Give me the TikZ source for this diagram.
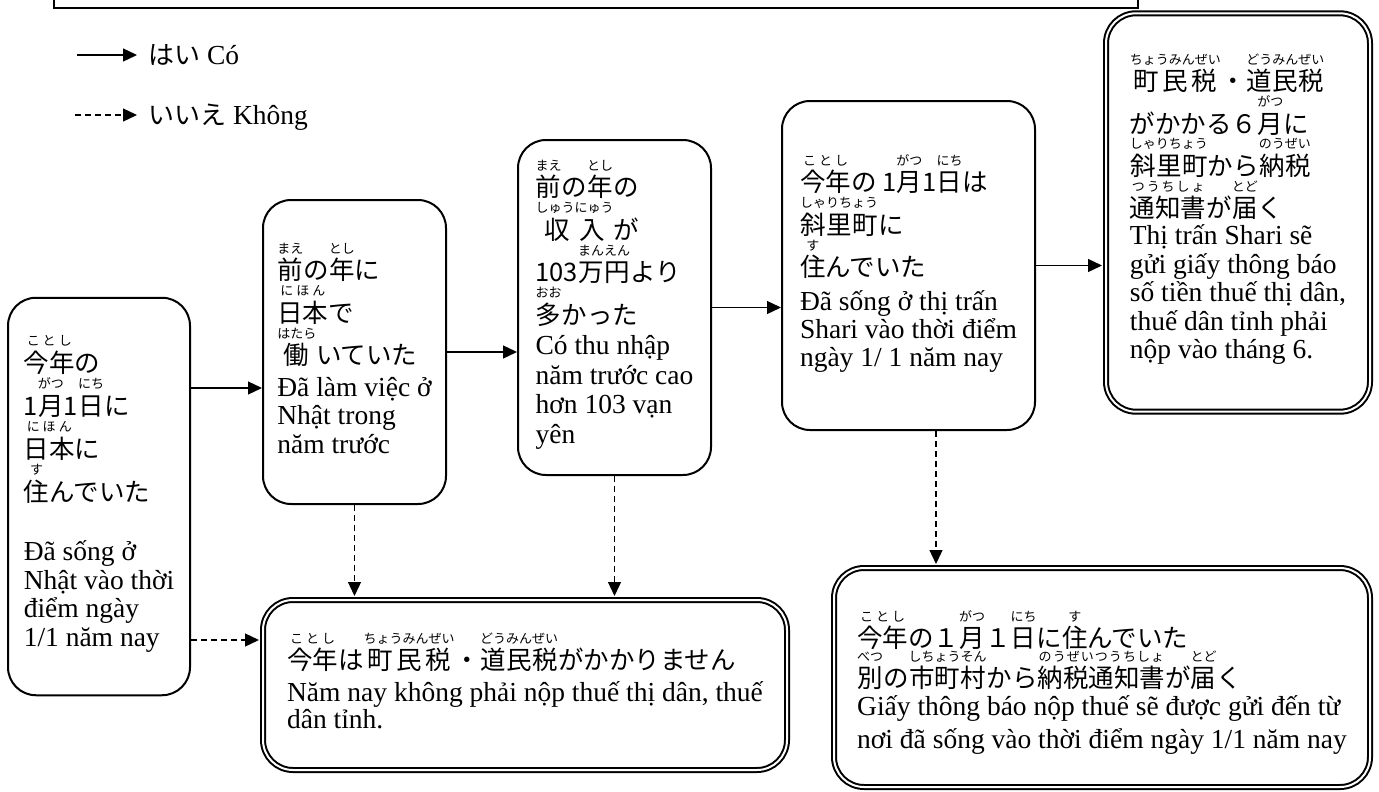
\documentclass[tikz,border=0pt]{standalone}
\usepackage{fontspec}
\setmainfont{Liberation Serif}
\newfontfamily\jp{Noto Sans CJK JP}
\usetikzlibrary{arrows.meta}

\newcommand\vnsize{\fontsize{27.5}{28.5}\selectfont\lineskiplimit=-\maxdimen\relax}
\newcommand\jpbase{\jp\fontsize{25.5}{28.5}\selectfont}
\newcommand\rubysize{\jp\fontsize{13}{13}\selectfont}
\newcommand\jl[1]{{\jpbase #1}}
\newcommand\toppad[1]{\rule{0pt}{#1}}
\newcommand\botpad[1]{\rule[-#1]{0pt}{#1}}

% ruby: base #1, reading #2, both spread to the wider width
\newsavebox\rbbase
\newsavebox\rbtop
\newlength\rbwd
\let\spreadend\relax
\def\spreadit#1{\spreadstep#1\spreadend}
\def\spreadstep#1{\ifx\spreadend#1\else\hfil#1\expandafter\spreadstep\fi}
\newcommand\rb[2]{%
  \sbox\rbbase{#1}\sbox\rbtop{\rubysize #2}%
  \setlength\rbwd{\wd\rbbase}%
  \ifdim\wd\rbtop>\rbwd \setlength\rbwd{\wd\rbtop}\fi
  \rlap{\raisebox{26.5pt}{\hbox to\rbwd{\rubysize\spreadit{#2}\hfil}}}%
  \hbox to\rbwd{\spreadit{#1}\hfil}}

\begin{document}
\begin{tikzpicture}[x=1pt,y=-1pt,
	every node/.style={font=\vnsize},
	box/.style={draw,line width=2pt,rounded corners=28pt,inner sep=0pt,align=left},
	dbox/.style={draw,line width=2pt,double,double distance=2pt,rounded corners=30pt,inner sep=0pt,align=left},
	yesline/.style={line width=1.3pt,-{Triangle[length=14pt,width=13pt]}},
	noline/.style={yesline,dash pattern=on 6pt off 4pt}]
\path[use as bounding box,fill=white] (0,0) rectangle (1379,792);
\draw[line width=2pt] (54,-40) rectangle (1138,8);

% legend
\coordinate (ya) at (77,55);
\node[anchor=base west,inner sep=0pt] (yestxt) at (148,64) {{\jp\fontsize{26}{28}\selectfont はい} Có};
\draw[yesline,shorten >=11pt] (ya) -- (ya -| yestxt.west);
\coordinate (na) at (75,115);
\node[anchor=base west,inner sep=0pt] (notxt) at (148,124) {{\jp\fontsize{26}{28}\selectfont いいえ} Không};
\draw[noline,shorten >=11pt] (na) -- (na -| notxt.west);

% questions
\node[box,minimum width=182pt] (A) at (99,496.5) {%
\jl{\toppad{74.5pt}\rb{今年}{ことし}の}\\[14.5pt]
\jl{1\rb{月}{がつ}1\rb{日}{にち}に}\\[14.5pt]
\jl{\rb{日本}{にほん}に}\\[14.5pt]
\jl{\rb{住}{す}んでいた}\\[31pt]
Đã sống ở\\
Nhật vào thời\\
điểm ngày\\
1/1 năm nay\botpad{49pt}};
\node[box,minimum width=183pt] (B) at (354.5,352) {%
\jl{\toppad{79.5pt}\rb{前}{まえ}の\rb{年}{とし}に}\\[14pt]
\jl{\rb{日本}{にほん}で}\\[14pt]
\jl{\rb{働}{はたら}いていた}\\[3pt]
Đã làm việc ở\\
Nhật trong\\
năm trước\botpad{51pt}};
\node[box,minimum width=193pt] (C) at (614.5,307.5) {%
\jl{\toppad{56.5pt}\rb{前}{まえ}の\rb{年}{とし}の}\\[14pt]
\jl{\rb{収入}{しゅうにゅう}が}\\[14pt]
\jl{103\rb{万円}{まんえん}より}\\[14pt]
\jl{\rb{多}{おお}かった}\\[2pt]
Có thu nhập\\[1pt]
năm trước cao\\[1pt]
hơn 103 vạn\\[1pt]
yên\botpad{32pt}};
\node[box,minimum width=253pt] (D) at (908.5,265.5) {%
\jl{\toppad{90.5pt}\rb{今年}{ことし}の 1\rb{月}{がつ}1\rb{日}{にち}は}\\[14pt]
\jl{\rb{斜里町}{しゃりちょう}に}\\[14pt]
\jl{\rb{住}{す}んでいた}\\[5pt]
Đã sống ở thị trấn\\[-0.5pt]
Shari vào thời điểm\\[-0.5pt]
ngày 1/ 1 năm nay\botpad{64pt}};

% results
\node[dbox,minimum width=264pt] (E) at (1238,212.5) {%
\jl{\toppad{77.5pt}\rb{町民税}{ちょうみんぜい}・\rb{道民税}{どうみんぜい}}\\[13.8pt]
\jl{がかかる６\rb{月}{がつ}に}\\[13.8pt]
\jl{\rb{斜里町}{しゃりちょう}から\rb{納税}{のうぜい}}\\[13.8pt]
\jl{\rb{通知書}{つうちしょ}が\rb{届}{とど}く}\\[-1.5pt]
Thị trấn Shari sẽ\\
gửi giấy thông báo\\
số tiền thuế thị dân,\\
thuế dân tỉnh phải\\
nộp vào tháng 6.\botpad{53pt}};
\node[dbox,minimum width=524pt] (F) at (525,685) {%
\jl{\toppad{69.5pt}\rb{今年}{ことし}は\rb{町民税}{ちょうみんぜい}・\rb{道民税}{どうみんぜい}がかかりません}\\[3pt]
Năm nay không phải nộp thuế thị dân, thuế\\[-1.5pt]
dân tỉnh.\botpad{42pt}};
\node[dbox,minimum width=536pt] (G) at (1102,677.5) {%
\jl{\toppad{79.5pt}\rb{今年}{ことし}の１\rb{月}{がつ}１\rb{日}{にち}に\rb{住}{す}んでいた}\\[11.5pt]
\jl{\rb{別}{べつ}の\rb{市町村}{しちょうそん}から\rb{納税通知書}{のうぜいつうちしょ}が\rb{届}{とど}く}\\[-1pt]
Giấy thông báo nộp thuế sẽ được gửi đến từ\\[4.5pt]
nơi đã sống vào thời điểm ngày 1/1 năm nay\botpad{39pt}};

% yes
\coordinate (ab) at ([yshift=-36pt]B.west);
\draw[yesline] (A.east |- ab) -- (ab);
\draw[yesline] (B.east) -- (B.east -| C.west);
\draw[yesline] (C.east) -- (C.east -| D.west);
\draw[yesline,shorten >=3pt] (D.east) -- (D.east -| E.west);
% no
\coordinate (af) at ([yshift=45pt]F.west);
\draw[noline,shorten >=3pt] (A.east |- af) -- (af);
\draw[noline,shorten >=3pt] (B.south) -- (B.south |- F.north);
\draw[noline,shorten >=3pt] (C.south) -- (C.south |- F.north);
\coordinate (dg) at ([xshift=27.5pt]D.south);
\draw[noline,shorten >=3pt] (dg) -- (dg |- G.north);
\end{tikzpicture}
\end{document}
